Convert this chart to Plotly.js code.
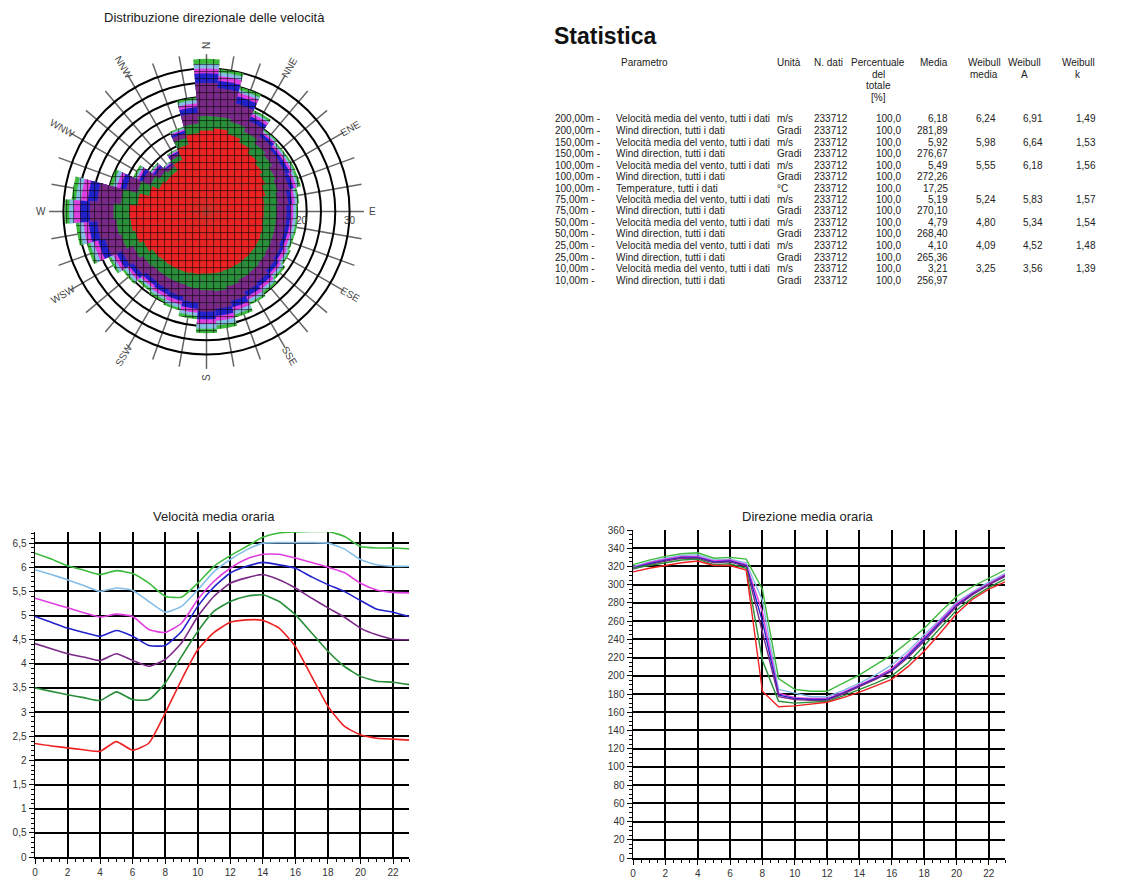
<!DOCTYPE html>
<html>
<head>
<meta charset="utf-8">
<script src="https://cdn.plot.ly/plotly-3.0.1.min.js"></script>
<style>
html,body{margin:0;padding:0;background:#fff;}
#chart{width:1140px;height:879px;}
</style>
</head>
<body>
<div id="chart"></div>
<script>
// ---------------- DATA ----------------
const seriesNames = ['200,00m', '150,00m', '100,00m', '75,00m', '50,00m', '25,00m', '10,00m'];
const seriesColors = ['#3dbb3d', '#86bde6', '#e03ee0', '#2222cc', '#7a2a86', '#2a8f3a', '#ee2222'];

// Rose: directions (deg) and outer reach of each height's point cloud
const directions = [0,10,20,30,40,50,60,70,80,90,100,110,120,130,140,150,160,170,180,190,200,210,220,230,240,250,260,270,280,290,300,310,320,330,340,350];
const rose200 = [32,30,27,23.5,21,20.5,20.6,20.5,19.5,19.2,19.2,19.1,19.5,20.2,21,21.6,23,24.8,25.5,22.7,21.5,21,20.5,21.5,22.7,26,27.5,29.7,28.4,21,17,14.5,13,14.5,18.4,24];
const rose150 = [31,29.3,26.4,23,20.7,20.2,20.2,20,19.1,18.8,18.8,18.7,19.1,19.7,20.5,21.1,22.4,24,24.6,22,21,20.5,20,21,22.2,25.3,26.8,28.8,27.5,20.3,16.5,14.3,12.9,14.3,18.1,23.5];
const rose100 = [30,28.5,25.8,22.6,20.4,19.8,19.8,19.5,18.6,18.2,18.2,18.2,18.6,19.1,19.9,20.4,21.6,23,23.6,21.3,20.3,19.9,19.5,20.4,21.6,24.5,25.9,27.8,26.4,19.5,16.1,14,12.7,14.1,17.8,22.8];
const rose75 = [29,27.5,25,22,20,19.3,19.3,18.9,18,17.6,17.6,17.6,17.9,18.5,19.2,19.7,20.8,22,22.6,20.5,19.5,19.2,18.9,19.8,20.8,23.5,24.8,26.5,25,18.7,15.6,13.7,12.5,13.9,17.5,22];
const rose50 = [27,26,23.5,21,19.3,18.6,18.4,18,17.2,16.8,16.8,16.8,17.2,17.6,18.2,18.6,19.5,20.5,21,19.2,18.5,18.2,18,18.8,19.6,22,23,24.5,23,17.5,14.8,13.2,12.2,13.6,17,20.8];
const rose25 = [20,20,19.5,18.5,17.5,16.8,16,15.5,15,14.7,14.7,14.8,15,15.3,15.6,15.8,16.3,16.8,16.5,16.2,16,16,16,16.3,17,18.5,19,19.5,18,15,13,12,11.5,13,16,18.5];
const rose10 = [17,17.5,16.8,16,15,14.3,13.6,12.8,12.2,12,12,12.3,12.5,12.6,12.7,12.8,12.9,13,13,13.2,13.4,13.5,13.6,13.8,14.6,15.5,16,16.2,14.5,12.5,11,10.5,10.5,12,14.5,16.5];
const roseSeries = [rose200, rose150, rose100, rose75, rose50, rose25, rose10];
const ringVals = [3, 6, 9, 12, 15, 18, 21, 24, 27, 30];
const radialLabelVals = [20, 30];
const radialLabels = ['20', '30'];
const compassAngles = [0,30,60,90,120,150,180,210,240,270,300,330];
const compassLabels = ['N','NNE','ENE','E','ESE','SSE','S','SSW','WSW','W','WNW','NNW'];

// Hourly mean speed (m/s)
const hours = [0,1,2,3,4,5,6,7,8,9,10,11,12,13,14,15,16,17,18,19,20,21,22,23];
const speed200 = [6.29,6.17,6.03,5.94,5.85,5.93,5.87,5.67,5.40,5.38,5.67,6.02,6.24,6.43,6.62,6.71,6.73,6.74,6.74,6.64,6.43,6.40,6.40,6.38];
const speed150 = [5.95,5.85,5.74,5.62,5.50,5.57,5.52,5.29,5.07,5.19,5.53,5.91,6.16,6.36,6.50,6.51,6.51,6.51,6.50,6.38,6.16,6.05,6.02,6.02];
const speed100 = [5.36,5.26,5.16,5.06,4.97,5.03,4.98,4.71,4.65,4.84,5.33,5.71,5.98,6.17,6.27,6.27,6.19,6.10,6.00,5.89,5.67,5.53,5.48,5.47];
const speed75 = [4.98,4.86,4.74,4.65,4.57,4.69,4.57,4.38,4.38,4.67,5.19,5.59,5.88,6.02,6.10,6.05,5.98,5.80,5.64,5.50,5.31,5.13,5.07,4.98];
const speed50 = [4.42,4.31,4.21,4.14,4.07,4.21,4.07,3.95,4.09,4.43,4.98,5.40,5.67,5.78,5.85,5.74,5.57,5.36,5.16,4.97,4.74,4.60,4.51,4.50];
const speed25 = [3.50,3.43,3.36,3.30,3.24,3.42,3.26,3.26,3.60,4.15,4.67,5.09,5.29,5.40,5.43,5.29,5.02,4.64,4.26,3.95,3.74,3.64,3.62,3.57];
const speed10 = [2.35,2.30,2.26,2.22,2.19,2.39,2.21,2.36,2.98,3.67,4.29,4.65,4.86,4.91,4.90,4.74,4.36,3.74,3.12,2.71,2.53,2.46,2.44,2.42];
const speedSeries = [speed200, speed150, speed100, speed75, speed50, speed25, speed10];

// Hourly mean direction (deg)
const dir200 = [322,327,331,334,335,329,330,328,295,197,185,183,183,192,201,212,223,237,252,270,287,298,307,316];
const dir150 = [320,325,329,332,333,327,328,324,283,185,181,177,177,184,192,201,212,227,245,262,281,292,303,312];
const dir100 = [319,324,328,331,331,326,327,322,270,181,176,175,175,182,190,198,208,224,242,260,279,291,301,311];
const dir75 = [318,323,327,330,330,325,326,321,260,179,175,174,174,181,189,197,206,222,240,258,277,290,300,310];
const dir50 = [317,322,326,329,329,324,325,320,248,177,174,173,173,180,188,196,205,220,238,257,276,289,300,309];
const dir25 = [318,321,324,327,328,322,323,318,217,172,170,171,172,178,185,192,200,214,233,252,272,286,297,306];
const dir10 = [314,318,321,324,326,321,321,316,183,166,167,169,171,176,182,189,196,210,227,247,268,284,295,303];
const dirSeries = [dir200, dir150, dir100, dir75, dir50, dir25, dir10];

// Statistics table
const tableTitle = 'Statistica';
const headerParam = 'Parametro';
const headerUnit = 'Unità';
const headerN = 'N. dati';
const headerPct = ['Percentuale', 'del', 'totale', '[%]'];
const headerMedia = 'Media';
const headerWMedia = ['Weibull', 'media'];
const headerWA = ['Weibull', 'A'];
const headerWk = ['Weibull', 'k'];
const rowHeight = ['200,00m -','200,00m -','150,00m -','150,00m -','100,00m -','100,00m -','100,00m -','75,00m -','75,00m -','50,00m -','50,00m -','25,00m -','25,00m -','10,00m -','10,00m -'];
const rowParam = ['Velocità media del vento, tutti i dati','Wind direction, tutti i dati','Velocità media del vento, tutti i dati','Wind direction, tutti i dati','Velocità media del vento, tutti i dati','Wind direction, tutti i dati','Temperature, tutti i dati','Velocità media del vento, tutti i dati','Wind direction, tutti i dati','Velocità media del vento, tutti i dati','Wind direction, tutti i dati','Velocità media del vento, tutti i dati','Wind direction, tutti i dati','Velocità media del vento, tutti i dati','Wind direction, tutti i dati'];
const rowUnit = ['m/s','Gradi','m/s','Gradi','m/s','Gradi','°C','m/s','Gradi','m/s','Gradi','m/s','Gradi','m/s','Gradi'];
const rowN = ['233712','233712','233712','233712','233712','233712','233712','233712','233712','233712','233712','233712','233712','233712','233712'];
const rowPct = ['100,0','100,0','100,0','100,0','100,0','100,0','100,0','100,0','100,0','100,0','100,0','100,0','100,0','100,0','100,0'];
const rowMedia = ['6,18','281,89','5,92','276,67','5,49','272,26','17,25','5,19','270,10','4,79','268,40','4,10','265,36','3,21','256,97'];
const rowWMedia = ['6,24','','5,98','','5,55','','','5,24','','4,80','','4,09','','3,25',''];
const rowWA = ['6,91','','6,64','','6,18','','','5,83','','5,34','','4,52','','3,56',''];
const rowWk = ['1,49','','1,53','','1,56','','','1,57','','1,54','','1,48','','1,39',''];

const titleRose = 'Distribuzione direzionale delle velocità';
const titleSpeed = 'Velocità media oraria';
const titleDir = 'Direzione media oraria';

// ---------------- LAYOUT HELPERS ----------------
const W = 1140, H = 879;
const FONT = 'Liberation Sans, Arial, sans-serif';
const px = v => v / W;
const py = v => 1 - v / H;

const traces = [];

// Rose (overlayed, outer heights first)
roseSeries.forEach((r, i) => {
  traces.push({
    type: 'barpolar', r: r, theta: directions, width: 10,
    marker: {
      color: seriesColors[i],
      line: {width: 0},
      pattern: {shape: '+', fgcolor: '#000', fgopacity: 0.8, size: 7, solidity: 0.2, fillmode: 'overlay'}
    },
    name: seriesNames[i], hoverinfo: 'skip'
  });
});

speedSeries.forEach((s, i) => {
  traces.push({
    type: 'scatter', mode: 'lines', x: hours, y: s, xaxis: 'x', yaxis: 'y',
    line: {color: seriesColors[i], width: 1.6, shape: 'spline', smoothing: 0.5},
    name: seriesNames[i], hoverinfo: 'skip'
  });
});

dirSeries.forEach((s, i) => {
  traces.push({
    type: 'scatter', mode: 'lines', x: hours, y: s, xaxis: 'x2', yaxis: 'y2',
    line: {color: seriesColors[i], width: 1.4},
    name: seriesNames[i], hoverinfo: 'skip'
  });
});
// carrier for the grid-only overlay axis
traces.push({type: 'scatter', mode: 'lines', x: [], y: [], xaxis: 'x2', yaxis: 'y3', hoverinfo: 'skip'});

// polar geometry
const cx = 206.5, cy = 211.5, R = 157.4, RMAX = 33;

const annotations = [];
function ann(text, x, y, xanchor, size, opts) {
  annotations.push(Object.assign({
    text: text, x: px(x), y: py(y), xref: 'paper', yref: 'paper',
    xanchor: xanchor, yanchor: 'middle', showarrow: false,
    font: {family: FONT, size: size, color: '#222'}
  }, opts || {}));
}

// chart titles
ann(titleRose, 214, 18, 'center', 13);
ann(titleSpeed, 214, 516, 'center', 13);
ann(titleDir, 808, 516, 'center', 13);

// compass labels, rotated along the radius
compassAngles.forEach((a, i) => {
  const rr = 166;
  const rad = a * Math.PI / 180;
  ann(compassLabels[i], cx + rr * Math.sin(rad), cy - rr * Math.cos(rad), 'center', 10,
      {textangle: (a % 180) - 90, font: {family: FONT, size: 10, color: '#444'}});
});
// radial labels along the east spoke
radialLabelVals.forEach((v, i) => {
  ann(radialLabels[i], cx + v / RMAX * R, cy + 9, 'center', 10, {font: {family: FONT, size: 10, color: '#444'}});
});

// table
annotations.push({text: '<b>' + tableTitle + '</b>', x: px(552), y: py(36), xref: 'paper', yref: 'paper',
  xanchor: 'left', yanchor: 'middle', showarrow: false, font: {family: FONT, size: 23, color: '#111'}});
const TS = 10;
const hy0 = 63, hstep = 11.5;
ann(headerParam, 619, hy0, 'left', TS);
ann(headerUnit, 775, hy0, 'left', TS);
ann(headerN, 812, hy0, 'left', TS);
headerPct.forEach((t, k) => ann(t, 878, hy0 + k * hstep, 'center', TS));
ann(headerMedia, 950, hy0, 'right', TS);
headerWMedia.forEach((t, k) => ann(t, 984, hy0 + k * hstep, 'center', TS));
headerWA.forEach((t, k) => ann(t, 1024, hy0 + k * hstep, 'center', TS));
headerWk.forEach((t, k) => ann(t, 1078, hy0 + k * hstep, 'center', TS));

const columns = [
  {vals: rowHeight, x: 553, a: 'left'},
  {vals: rowParam, x: 614, a: 'left'},
  {vals: rowUnit, x: 775, a: 'left'},
  {vals: rowN, x: 812, a: 'left'},
  {vals: rowPct, x: 903, a: 'right'},
  {vals: rowMedia, x: 950, a: 'right'},
  {vals: rowWMedia, x: 998, a: 'right'},
  {vals: rowWA, x: 1045, a: 'right'},
  {vals: rowWk, x: 1098, a: 'right'}
];
const ry0 = 119, rstep = 11.5;
columns.forEach(c => {
  c.vals.forEach((v, k) => { if (v !== '') ann(v, c.x, ry0 + k * rstep, c.a, TS); });
});

const tickFont = {family: FONT, size: 10, color: '#333'};
function xAxis(domain, anchor) {
  return {
    domain: domain, anchor: anchor, range: [0, 23], tickmode: 'linear', tick0: 0, dtick: 2,
    showgrid: true, gridcolor: '#000', gridwidth: 2, zeroline: false,
    showline: true, linecolor: '#000', linewidth: 1.5,
    ticks: 'outside', ticklen: 5, tickcolor: '#000', tickwidth: 1,
    minor: {dtick: 0.5, ticks: 'outside', ticklen: 3, tickcolor: '#000', showgrid: false},
    tickfont: tickFont, fixedrange: true
  };
}

const layout = {
  width: W, height: H,
  margin: {l: 0, r: 0, t: 0, b: 0},
  paper_bgcolor: '#fff', plot_bgcolor: '#fff',
  showlegend: false,
  separators: ',.',
  font: {family: FONT, size: 10, color: '#333'},
  polar: {
    domain: {x: [px(cx - R), px(cx + R)], y: [py(cy + R), py(cy - R)]},
    bgcolor: 'rgba(0,0,0,0)',
    barmode: 'overlay', bargap: 0,
    angularaxis: {
      rotation: 90, direction: 'clockwise', tickmode: 'array', tickvals: directions,
      showticklabels: false, ticks: '', showline: false,
      showgrid: true, gridcolor: '#666', gridwidth: 1.5
    },
    radialaxis: {
      range: [0, RMAX], tickmode: 'array', tickvals: ringVals,
      showticklabels: false, showline: false, ticks: '',
      showgrid: true, gridcolor: '#000', gridwidth: 2, angle: 0
    }
  },
  xaxis: xAxis([px(35), px(409.3)], 'y'),
  yaxis: {
    domain: [py(857), py(532)], anchor: 'x', range: [0, 6.73], tickmode: 'linear', tick0: 0, dtick: 0.5,
    showgrid: true, gridcolor: '#000', gridwidth: 2, zeroline: false,
    showline: true, linecolor: '#000', linewidth: 1.5,
    ticks: 'outside', ticklen: 5, tickcolor: '#000',
    minor: {dtick: 0.1, ticks: 'outside', ticklen: 3, tickcolor: '#000', showgrid: false},
    tickfont: tickFont, fixedrange: true
  },
  xaxis2: xAxis([px(633), px(1005)], 'y2'),
  yaxis2: {
    domain: [py(858), py(530)], anchor: 'x2', range: [0, 360], tickmode: 'linear', tick0: 0, dtick: 20,
    showgrid: false, zeroline: false,
    showline: true, linecolor: '#000', linewidth: 1.5,
    ticks: 'outside', ticklen: 5, tickcolor: '#000',
    minor: {dtick: 5, ticks: 'outside', ticklen: 3, tickcolor: '#000', showgrid: false},
    tickfont: tickFont, fixedrange: true
  },
  yaxis3: {
    overlaying: 'y2', anchor: 'x2', side: 'left', range: [0, 360],
    tickmode: 'array', tickvals: [20,40,60,80,100,120,140,160,180,200,220,240,260,280,300,320,340],
    showgrid: true, gridcolor: '#000', gridwidth: 2, zeroline: false,
    showline: false, ticks: '', showticklabels: false, fixedrange: true
  },
  annotations: annotations
};

Plotly.newPlot('chart', traces, layout, {staticPlot: true, displayModeBar: false});
</script>
</body>
</html>
